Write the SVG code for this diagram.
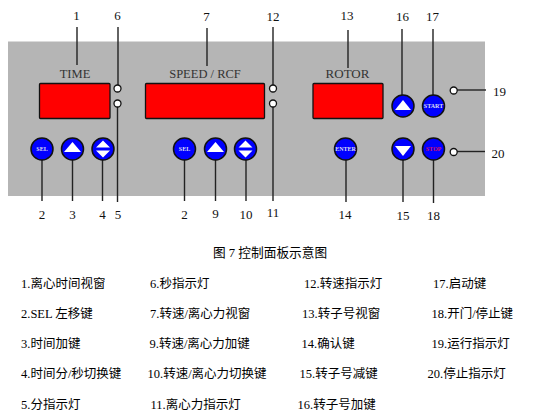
<svg xmlns="http://www.w3.org/2000/svg" width="543" height="418" viewBox="0 0 543 418">
<style>
text{font-family:"Liberation Serif","Noto Sans CJK SC",serif;fill:#111}
.n{font-size:13px;text-anchor:middle}
.t{font-size:12.500px;text-anchor:middle;fill:#333}
.l{font-size:12.500px;fill:#000}
.c{font-size:12.700px;fill:#000}
.d{fill:#f00;stroke:#111;stroke-width:1.300}
.b{fill:#00f;stroke:#111;stroke-width:1.500}
.o{fill:#fff;stroke:#111;stroke-width:1.300}
.w{fill:#fff}
.k{font-size:6px;text-anchor:middle;fill:#dde;font-weight:bold}
#connectors line{stroke:#222;stroke-width:1.400}
</style>
<rect id="panel" x="8" y="41.500" width="477" height="154.500" fill="#b5b5b5"/>
<g id="connectors">
<line x1="77" y1="27" x2="77" y2="65"/><line x1="118" y1="27" x2="118" y2="85"/>
<line x1="207" y1="28" x2="207" y2="66"/><line x1="273" y1="27" x2="273" y2="85"/>
<line x1="348" y1="30" x2="348" y2="68"/><line x1="402" y1="29" x2="402" y2="95"/>
<line x1="433" y1="29" x2="433" y2="95"/><line x1="457" y1="90" x2="486" y2="90"/>
<line x1="457" y1="151.500" x2="485" y2="151.500"/>
<line x1="42" y1="160" x2="42" y2="201"/><line x1="72.500" y1="160" x2="72.500" y2="201"/>
<line x1="102.500" y1="160" x2="102.500" y2="201"/><line x1="117.500" y1="107" x2="117.500" y2="202"/>
<line x1="184.500" y1="160" x2="184.500" y2="201"/><line x1="215.500" y1="160" x2="215.500" y2="201"/>
<line x1="246" y1="160" x2="246" y2="201"/><line x1="273" y1="107" x2="273" y2="201"/>
<line x1="346" y1="160" x2="346" y2="202"/><line x1="403" y1="160" x2="403" y2="202"/>
<line x1="433.500" y1="160" x2="433.500" y2="203"/>
</g>
<g id="time-window"><rect class="d" x="39.500" y="83.500" width="70.500" height="35" rx="1"/><text class="t" x="75" y="78">TIME</text></g>
<g id="speed-window"><rect class="d" x="145.500" y="83.500" width="119" height="35" rx="1"/><text class="t" x="205" y="78">SPEED / RCF</text></g>
<g id="rotor-window"><rect class="d" x="313" y="83.500" width="70" height="35" rx="1"/><text class="t" x="347.500" y="78" style="font-size:13px">ROTOR</text></g>
<g id="led-6"><circle class="o" cx="117.500" cy="88.500" r="3.500"/></g>
<g id="led-5"><circle class="o" cx="117.500" cy="103.500" r="3.500"/></g>
<g id="led-12"><circle class="o" cx="273" cy="88.500" r="3.500"/></g>
<g id="led-11"><circle class="o" cx="273" cy="103.500" r="3.500"/></g>
<g id="led-19"><circle class="o" cx="453.700" cy="90.500" r="3.500"/></g>
<g id="led-20"><circle class="o" cx="453.700" cy="152" r="3.500"/></g>
<g id="btn-sel-1"><circle class="b" cx="42" cy="149" r="11"/><text class="k" x="42" y="151">SEL</text></g>
<g id="btn-up-1"><circle class="b" cx="72.500" cy="149" r="11"/><path class="w" d="M72.500 142L81 152H64Z"/></g>
<g id="btn-updown-1"><circle class="b" cx="103" cy="149" r="11"/><path class="w" d="M103 140.500L110 147.500H96ZM103 157.500L110 150.500H96Z"/></g>
<g id="btn-sel-2"><circle class="b" cx="184.500" cy="149" r="11"/><text class="k" x="184.500" y="151">SEL</text></g>
<g id="btn-up-2"><circle class="b" cx="215.500" cy="149" r="11"/><path class="w" d="M215.500 142L224 152H207Z"/></g>
<g id="btn-updown-2"><circle class="b" cx="245.500" cy="149" r="11"/><path class="w" d="M245.500 140.500L252.500 147.500H238.500ZM245.500 157.500L252.500 150.500H238.500Z"/></g>
<g id="btn-enter"><circle class="b" cx="345.500" cy="149" r="11"/><text class="k" x="345.500" y="151">ENTER</text></g>
<g id="btn-rotor-up"><circle class="b" cx="403" cy="106" r="11"/><path class="w" d="M403 100L411 110H395Z"/></g>
<g id="btn-start"><circle class="b" cx="433.500" cy="106" r="11"/><text class="k" x="433.500" y="108">START</text></g>
<g id="btn-rotor-down"><circle class="b" cx="403" cy="149" r="11"/><path class="w" d="M403 156L411 146H395Z"/></g>
<g id="btn-stop"><circle class="b" cx="433.500" cy="149" r="11"/><text class="k" x="433.500" y="151" style="fill:#d0106a">STOP</text></g>
<g id="numbers">
<text class="n" x="76.500" y="20">1</text><text class="n" x="117.500" y="20">6</text><text class="n" x="206.500" y="21">7</text><text class="n" x="273" y="21">12</text><text class="n" x="347" y="20">13</text><text class="n" x="402.500" y="21">16</text><text class="n" x="432.500" y="21">17</text><text class="n" x="499.500" y="96">19</text><text class="n" x="498" y="158">20</text>
<text class="n" x="42" y="219">2</text><text class="n" x="72.500" y="219">3</text><text class="n" x="102.500" y="219">4</text><text class="n" x="118" y="219">5</text><text class="n" x="184.500" y="219">2</text><text class="n" x="215.500" y="218">9</text><text class="n" x="246" y="219">10</text><text class="n" x="273" y="217">11</text><text class="n" x="345" y="219">14</text><text class="n" x="403" y="220">15</text><text class="n" x="433.500" y="220">18</text>
</g>
<g id="caption">
<text class="c" x="213" y="257">图 7 控制面板示意图</text>
<text class="l" x="21" y="288">1.离心时间视窗</text><text class="l" x="21" y="318">2.SEL 左移键</text><text class="l" x="21" y="348">3.时间加键</text><text class="l" x="21" y="378">4.时间分/秒切换键</text><text class="l" x="21" y="409">5.分指示灯</text>
<text class="l" x="150" y="288">6.秒指示灯</text><text class="l" x="150" y="318">7.转速/离心力视窗</text><text class="l" x="149.500" y="348">9.转速/离心力加键</text><text class="l" x="147.500" y="378">10.转速/离心力切换键</text><text class="l" x="150.500" y="409">11.离心力指示灯</text>
<text class="l" x="304" y="288">12.转速指示灯</text><text class="l" x="302" y="318">13.转子号视窗</text><text class="l" x="301.500" y="348">14.确认键</text><text class="l" x="299.500" y="378">15.转子号减键</text><text class="l" x="297.500" y="409">16.转子号加键</text>
<text class="l" x="433" y="288">17.启动键</text><text class="l" x="431.500" y="318">18.开门/停止键</text><text class="l" x="431.500" y="348">19.运行指示灯</text><text class="l" x="427.500" y="378">20.停止指示灯</text>
</g>
</svg>
